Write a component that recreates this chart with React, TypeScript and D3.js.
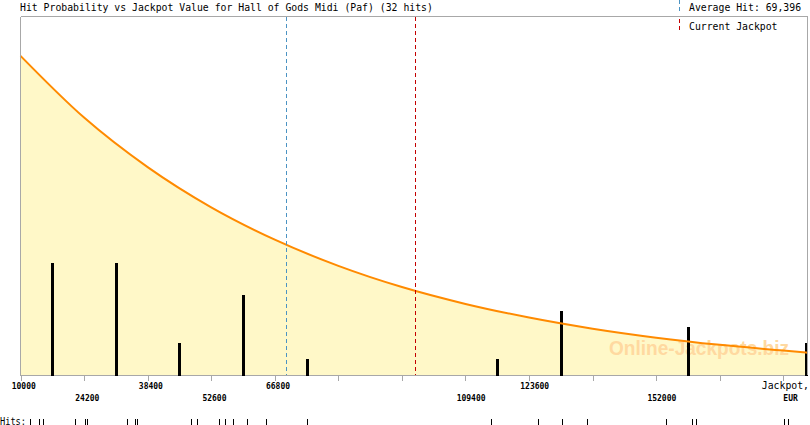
import React from "react";
import * as d3 from "d3";

// ---- data ----
const title = "Hit Probability vs Jackpot Value for Hall of Gods Midi (Paf) (32 hits)";
const avgHit = 69396;
const currentJackpot = 98200;
const hits = [
  12100, 12100, 12100, 14200, 14200, 14950, 22250,
  24350, 24350, 24800, 33700, 35500, 35500, 36000,
  48150, 49500,
  54400, 55750, 57550, 60700, 64900,
  74100,
  115200,
  125700, 125700, 131050, 136650,
  154100, 160100, 160850,
  180650, 181550,
];
const tickValues = [10000, 24200, 38400, 52600, 66800, 81000, 95200, 109400, 123600, 137800, 152000, 166200, 180400];
const labelRow1 = [10000, 38400, 66800, 123600];
const labelRow2 = [24200, 52600, 109400, 152000];
const curveJackpot = [10000, 24200, 38400, 52600, 66800, 81000, 95200, 109400, 123600, 137800, 152000, 166200, 180400, 185800];
const curveProb = [0.889, 0.717, 0.579, 0.467, 0.377, 0.304, 0.245, 0.198, 0.160, 0.129, 0.104, 0.084, 0.068, 0.062];

const W = 810;
const H = 425;
const L = 20.5;
const R = 807.5;
const T = 16.5;
const B = 375.5;
const GRAY = "#a8a8a8";
const MONO = "'DejaVu Sans Mono', monospace";

export default function App() {
  const x = d3.scaleLinear().domain([10000, 185800]).range([L, R]);
  const yP = d3.scaleLinear().domain([0, 1]).range([B - 0.5, T - 0.5]);
  const yC = d3.scaleLinear().domain([0, 22.44]).range([B - 0.5, T - 0.5]);

  const binner = d3
    .bin<number, number>()
    .domain([10000, 194600])
    .thresholds(tickValues.slice(1));
  const bins = binner(hits).filter((b) => b.length > 0);

  const pts = curveJackpot.map((v, i) => [v, curveProb[i]] as [number, number]);
  const line = d3
    .line<[number, number]>()
    .x((d) => x(d[0]))
    .y((d) => yP(d[1]))
    .curve(d3.curveMonotoneX);
  const area = d3
    .area<[number, number]>()
    .x((d) => x(d[0]))
    .y0(B - 0.5)
    .y1((d) => yP(d[1]))
    .curve(d3.curveMonotoneX);

  const fmt = d3.format(",");
  const barX = (b: d3.Bin<number, number>) =>
    Math.min(Math.round(x(((b.x0 as number) + (b.x1 as number)) / 2)), R - 1.5);

  return (
    <svg
      width={W}
      height={H}
      style={{ position: "absolute", left: 0, top: 0, background: "#fff" }}
    >
      <rect x={0} y={0} width={W} height={H} fill="#fff" />
      {/* fill under curve */}
      <path d={area(pts) ?? ""} fill="#fff8c8" />
      {/* watermark */}
      <text
        x={609}
        y={355}
        fontFamily="'Liberation Sans', Arial, sans-serif"
        fontWeight="bold"
        fontSize={20}
        textLength={180}
        lengthAdjust="spacingAndGlyphs"
        fill="#ffd9a0"
      >
        Online-Jackpots.biz
      </text>
      {/* histogram bars */}
      {bins.map((b, i) => {
        const cx = barX(b);
        return (
          <rect
            key={i}
            x={cx - 1}
            y={yC(b.length)}
            width={3}
            height={B - 0.5 - yC(b.length)}
            fill="#000"
            shapeRendering="crispEdges"
          />
        );
      })}
      {/* curve */}
      <path d={line(pts) ?? ""} fill="none" stroke="#ff8a00" strokeWidth={2} />
      {/* vertical markers */}
      <line
        x1={Math.round(x(avgHit)) + 0.5}
        x2={Math.round(x(avgHit)) + 0.5}
        y1={T}
        y2={B}
        stroke="#4b93c3"
        strokeDasharray="4,3"
        shapeRendering="crispEdges"
      />
      <line
        x1={Math.round(x(currentJackpot)) + 0.5}
        x2={Math.round(x(currentJackpot)) + 0.5}
        y1={T}
        y2={B}
        stroke="#c40000"
        strokeDasharray="4,3"
        shapeRendering="crispEdges"
      />
      {/* frame */}
      <g stroke={GRAY} shapeRendering="crispEdges" fill="none">
        <line x1={L} x2={R} y1={T} y2={T} />
        <line x1={L} x2={L} y1={T} y2={B} />
        <line x1={R} x2={R} y1={T} y2={B} />
        <line x1={L} x2={R} y1={B} y2={B} />
        {tickValues.map((v) => (
          <line key={v} x1={Math.round(x(v)) + 0.5} x2={Math.round(x(v)) + 0.5} y1={B} y2={B + 5} />
        ))}
      </g>
      {/* bars over the axis line */}
      {bins.map((b, i) => (
        <rect key={"o" + i} x={barX(b) - 1} y={B - 1} width={3} height={1.5} fill="#000" shapeRendering="crispEdges" />
      ))}
      {/* title and legend */}
      <text x={20} y={10.5} fontFamily={MONO} fontSize={9.8} fill="#000">
        {title}
      </text>
      <line x1={679.5} x2={679.5} y1={0} y2={11} stroke="#4b93c3" strokeDasharray="4,3" shapeRendering="crispEdges" />
      <line x1={679.5} x2={679.5} y1={19} y2={33} stroke="#c40000" strokeDasharray="4,3" shapeRendering="crispEdges" />
      <text x={689} y={10.5} fontFamily={MONO} fontSize={9.8} fill="#000">
        {"Average Hit: " + fmt(avgHit)}
      </text>
      <text x={689} y={29.5} fontFamily={MONO} fontSize={9.8} fill="#000">
        Current Jackpot
      </text>
      {/* tick labels */}
      {labelRow1.map((v) => (
        <text key={v} x={x(v) - 8.8} y={388.5} fontFamily={MONO} fontSize={8} fontWeight="bold" fill="#000">
          {String(v)}
        </text>
      ))}
      {labelRow2.map((v) => (
        <text key={v} x={x(v) - 8.8} y={401} fontFamily={MONO} fontSize={8} fontWeight="bold" fill="#000">
          {String(v)}
        </text>
      ))}
      <text x={809} y={389} textAnchor="end" fontFamily={MONO} fontSize={9.8} fill="#000">
        Jackpot,
      </text>
      <text x={x(180400)} y={401} fontFamily={MONO} fontSize={8} fontWeight="bold" fill="#000">
        EUR
      </text>
      {/* hits strip */}
      <text
        x={0}
        y={424.5}
        fontFamily={MONO}
        fontSize={10}
        textLength={26}
        lengthAdjust="spacingAndGlyphs"
        fill="#000"
      >
        Hits:
      </text>
      {hits.map((v, i) => (
        <line
          key={i}
          x1={Math.round(x(v)) + 0.5}
          x2={Math.round(x(v)) + 0.5}
          y1={419}
          y2={425}
          stroke="#000"
          shapeRendering="crispEdges"
        />
      ))}
    </svg>
  );
}
